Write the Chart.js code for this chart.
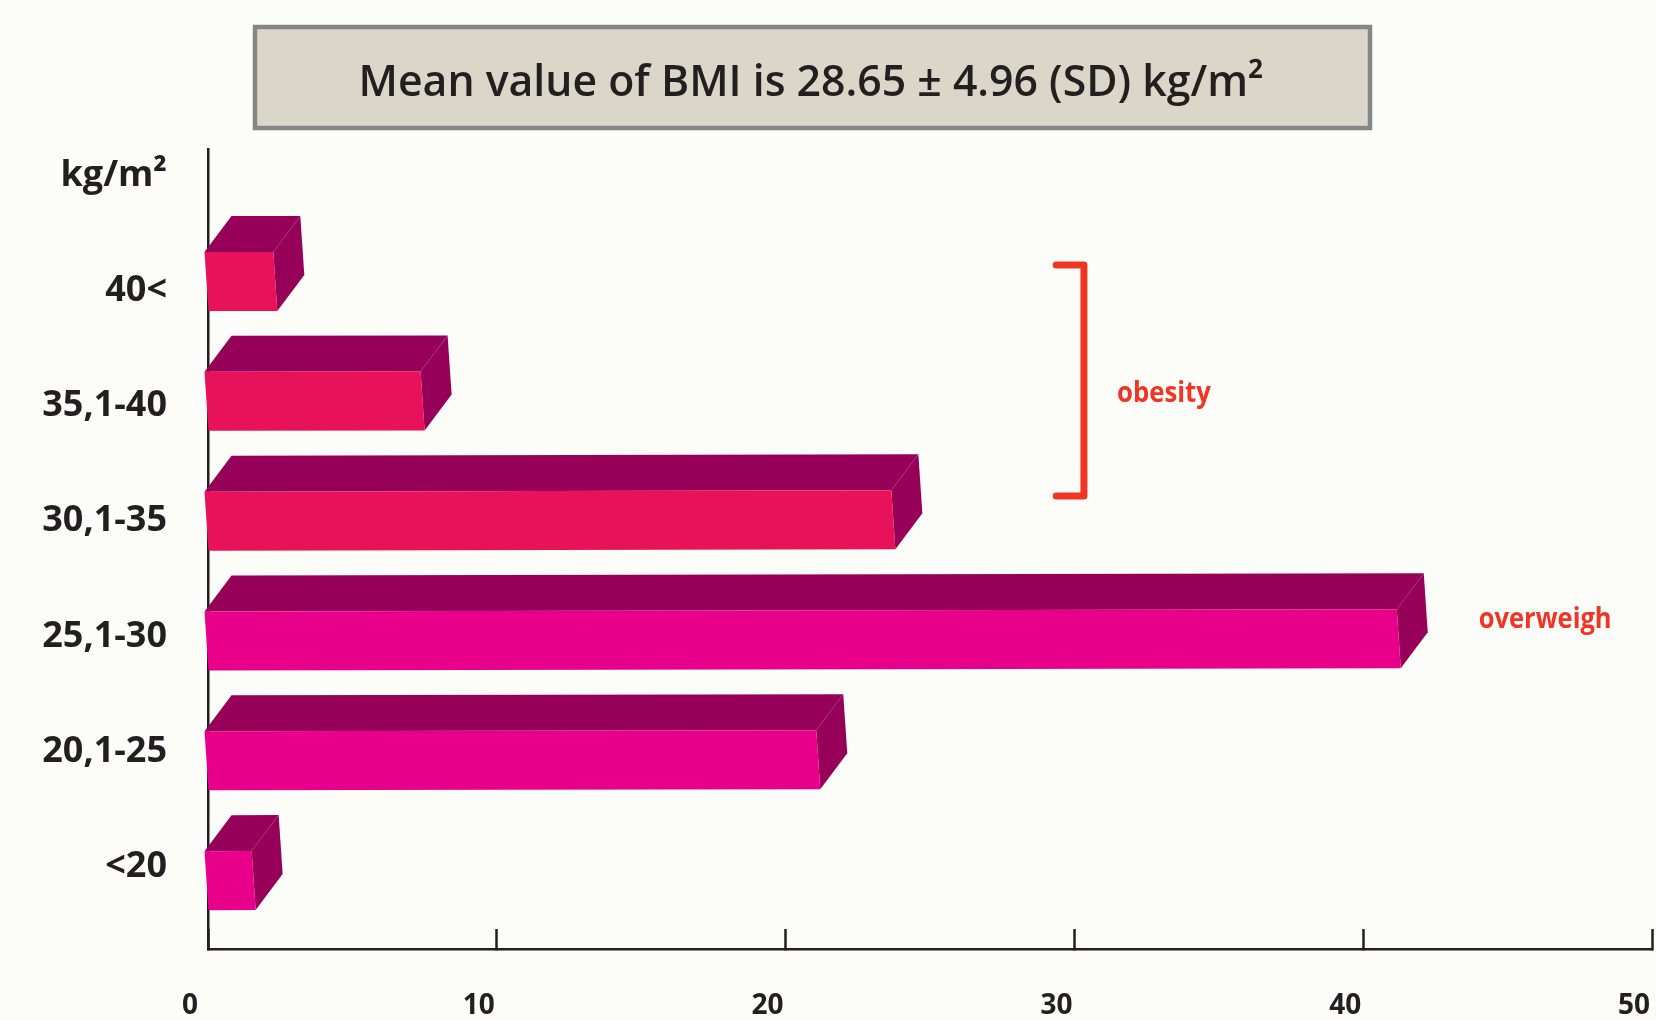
<!DOCTYPE html>
<html>
<head>
<meta charset="utf-8">
<title>BMI distribution</title>
<script src="https://cdn.jsdelivr.net/npm/chart.js@4"></script>
<style>
  html, body { margin: 0; background: #fcfcf8; }
  canvas { display: block; }
</style>
</head>
<body>
<canvas id="bmiChart" width="1656" height="1020"></canvas>
<script>
// ---------- data ----------
const categories = ['40<', '35,1-40', '30,1-35', '25,1-30', '20,1-25', '<20'];
const percentValues = [2.4, 7.5, 23.8, 41.3, 21.2, 1.65];
const axisLabels = ['kg/m²', ...categories];
const frontColors = ['#e8125a', '#e8125a', '#e8125a', '#e9008a', '#e9008a', '#e9008a'];
const bracketX = [29.37, 30.33, 30.33, 29.37];
const bracketY = [-0.138, -0.138, 1.79, 1.79];

const titleText = 'Mean value of BMI is 28.65 ± 4.96 (SD) kg/m²';
const INK = '#231f20';
const RED = '#f03524';
const DEPTH_COLOR = '#960058';

// ---------- 3D bar drawing ----------
const DEPTH_X = 27, DEPTH_Y = 36, SKEW = 4, TILT = 0.002;

function polygon(ctx, pts, color) {
  ctx.fillStyle = color;
  ctx.beginPath();
  pts.forEach((p, i) => i ? ctx.lineTo(p[0], p[1]) : ctx.moveTo(p[0], p[1]));
  ctx.closePath();
  ctx.fill();
}

// replaces the flat rectangle of a bar element with a small extruded block
function drawBlock(ctx) {
  const { x, y, base, height } = this.getProps(['x', 'y', 'base', 'height'], true);
  const rise = (x - base) * TILT;
  const bl = [base, y + height / 2];
  const br = [x, y + height / 2 - rise];
  const tl = [base - SKEW, y - height / 2];
  const tr = [x - SKEW, y - height / 2 - rise];
  const back = p => [p[0] + DEPTH_X, p[1] - DEPTH_Y];
  polygon(ctx, [tl, tr, back(tr), back(tl)], DEPTH_COLOR);
  polygon(ctx, [tr, br, back(br), back(tr)], DEPTH_COLOR);
  polygon(ctx, [tl, tr, br, bl], this.options.backgroundColor);
}

const blockBars = {
  id: 'blockBars',
  afterDatasetsUpdate(chart) {
    chart.getDatasetMeta(0).data.forEach(bar => { bar.draw = drawBlock; });
  }
};

// ---------- heading box and side notes ----------
const notes = {
  id: 'notes',
  afterDraw(chart) {
    const { ctx, scales } = chart;
    ctx.save();
    ctx.fillStyle = '#dbd7c8';
    ctx.strokeStyle = '#85868a';
    ctx.lineWidth = 4.5;
    ctx.fillRect(255, 27, 1115, 101);
    ctx.strokeRect(255, 27, 1115, 101);

    ctx.fillStyle = INK;
    ctx.textAlign = 'center';
    ctx.textBaseline = 'middle';
    ctx.font = '600 44px "Open Sans"';
    ctx.fillText(titleText, 811, 83, 905);

    ctx.fillStyle = RED;
    ctx.font = 'bold 29px "Open Sans"';
    ctx.fillText('obesity', scales.x.getPixelForValue(33.1), scales.y.getPixelForValue(0.94), 94);
    ctx.fillText('overweigh', scales.x.getPixelForValue(46.3), scales.y.getPixelForValue(2.82), 133);
    ctx.restore();
  }
};

// ---------- chart ----------
const axisLine = { display: true, color: INK, width: 2.5 };

new Chart(document.getElementById('bmiChart'), {
  data: {
    datasets: [
      {
        type: 'bar',
        label: 'BMI group',
        data: percentValues.map((v, i) => ({ x: v, y: i })),
        backgroundColor: frontColors,
        barThickness: 59,
        clip: false,
        xAxisID: 'x',
        yAxisID: 'y'
      },
      {
        type: 'line',
        label: 'obesity',
        indexAxis: 'y',
        data: bracketX.map((v, i) => ({ x: v, y: bracketY[i] })),
        borderColor: RED,
        borderWidth: 7,
        borderCapStyle: 'round',
        borderJoinStyle: 'round',
        pointRadius: 0,
        xAxisID: 'x',
        yAxisID: 'y'
      }
    ]
  },
  options: {
    indexAxis: 'y',
    responsive: false,
    animation: false,
    events: [],
    layout: { autoPadding: false, padding: { top: 149, right: 4, left: 0, bottom: 0 } },
    plugins: { legend: { display: false }, tooltip: { enabled: false } },
    scales: {
      x: {
        type: 'linear',
        position: 'bottom',
        min: 0,
        max: 50,
        border: axisLine,
        grid: { drawOnChartArea: false, tickLength: -20, tickColor: INK, tickWidth: 2.5 },
        ticks: {
          stepSize: 10,
          color: INK,
          labelOffset: -18,
          padding: 60,
          maxRotation: 0,
          font: { family: 'Open Sans', size: 28, weight: 'bold' }
        },
        // the "50" label may hang past the axis end, so no room is kept for it
        afterFit(scale) {
          scale.height = 71;
          scale.paddingLeft = 0;
          scale.paddingRight = 0;
        }
      },
      // bar positions, one unit per group
      y: {
        type: 'linear',
        display: false,
        offset: false,
        reverse: true,
        min: -1.106,
        max: 5.57
      },
      // group names sit on their own slightly tighter spacing
      yLabels: {
        type: 'linear',
        position: 'left',
        offset: false,
        reverse: true,
        min: -0.23,
        max: 6.715,
        border: axisLine,
        grid: { drawOnChartArea: false, drawTicks: false },
        afterBuildTicks(scale) { scale.ticks = axisLabels.map((_, i) => ({ value: i })); },
        ticks: {
          autoSkip: false,
          color: INK,
          padding: 41,
          font: { family: 'Open Sans', size: 36, weight: 'bold' },
          callback: v => axisLabels[v]
        },
        afterFit(scale) { scale.width = 208; }
      }
    }
  },
  plugins: [blockBars, notes]
});
</script>
</body>
</html>
